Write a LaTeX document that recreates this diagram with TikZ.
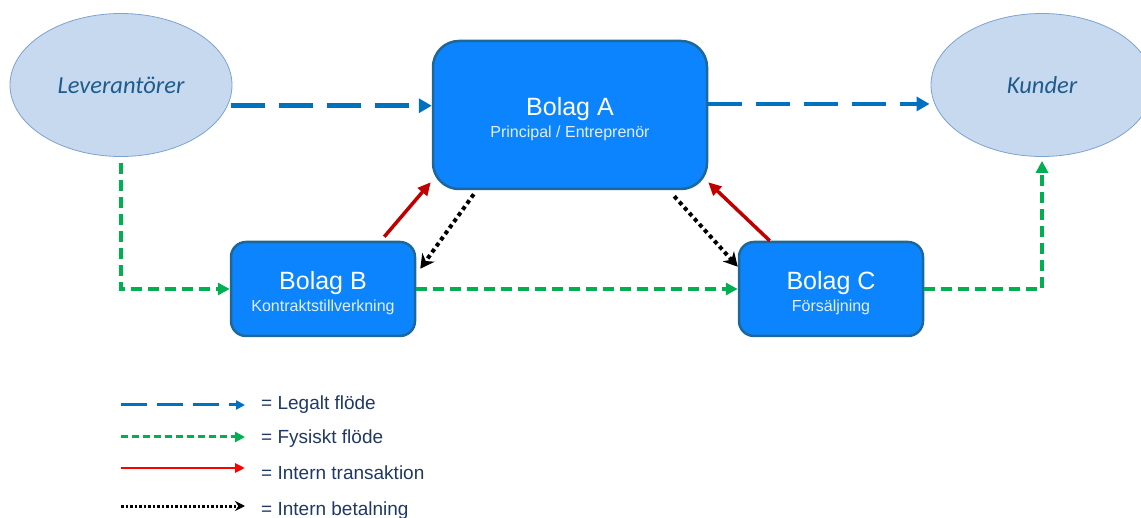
\documentclass[tikz,border=0pt]{standalone}
\usepackage{fontspec}
\setmainfont{Liberation Sans}
\newfontfamily\calibrifont{Carlito}
\usetikzlibrary{shapes.geometric,arrows.meta}

\definecolor{companyBlue}{HTML}{0B84FE}
\definecolor{companyEdge}{HTML}{1D6898}
\definecolor{subText}{HTML}{E4EFFC}
\definecolor{partyFill}{HTML}{C6D9EE}
\definecolor{partyEdge}{HTML}{7EA2D3}
\definecolor{partyText}{HTML}{1F5C8C}
\definecolor{legalBlue}{HTML}{0070C0}
\definecolor{physGreen}{HTML}{00B050}
\definecolor{transRed}{HTML}{C00000}
\definecolor{keyRed}{HTML}{FF0000}
\definecolor{keyText}{HTML}{1F3864}

\newcommand{\companyText}[2]{\rule{0pt}{27pt}#1\\[0pt]{\fontsize{16}{18}\selectfont\color{subText}#2}}

\begin{document}
\begin{tikzpicture}
[x=1pt,y=-1pt,
  partyDecorate/.style={shape=ellipse,draw=partyEdge,fill=partyFill,line width=0.8pt,
    minimum width=222pt,minimum height=143pt,inner sep=0pt,text=partyText,
    font=\calibrifont\itshape\fontsize{24.5}{28}\selectfont},
  companyDecorate/.style={shape=rectangle,draw=companyEdge,fill=companyBlue,line width=2.5pt,
    rounded corners=15pt,minimum width=184pt,minimum height=94pt,inner sep=0pt,
    text=white,align=center,font=\fontsize{25}{22}\selectfont},
  legalDecorate/.style={draw=legalBlue,line width=4.5pt,dash pattern=on 34pt off 14pt,
    -{Triangle[length=13pt,width=14pt]}},
  physDecorate/.style={draw=physGreen,line width=4pt,dash pattern=on 11pt off 6pt,
    -{Triangle[length=12pt,width=12pt]}},
  transDecorate/.style={draw=transRed,line width=3.5pt,-{Triangle[length=13pt,width=12pt]}},
  payDecorate/.style={draw=black,line width=4pt,dash pattern=on 4pt off 3.5pt,
    -{Stealth[length=14pt,width=15pt]}},
  %% legend lines
  legalKey/.style={draw=legalBlue,line width=3pt,dash pattern=on 26pt off 10pt,
    -{Triangle[length=9pt,width=9pt]}},
  physKey/.style={draw=physGreen,line width=3pt,dash pattern=on 7pt off 4pt,
    -{Triangle[length=10pt,width=10pt]}},
  transKey/.style={draw=keyRed,line width=2.5pt,-{Triangle[length=10pt,width=9pt]}},
  payKey/.style={draw=black,line width=3pt,dash pattern=on 2.5pt off 2pt,
    -{Stealth[length=10pt,width=10pt]}},
  keyDecorate/.style={text=keyText,inner sep=0pt,font=\fontsize{19}{22}\selectfont}]
\useasboundingbox (0,0) rectangle (1141,518);

%% outside parties
\node (Lev) at (121,85) [partyDecorate] {Leverantörer};
\node (Kund) at (1042,85) [partyDecorate] {Kunder};

%% companies
\node (A) at (570,115) [companyDecorate,minimum width=274pt,minimum height=148pt,rounded corners=26pt]
  {\companyText{Bolag A}{Principal / Entreprenör}};
\foreach \nodename/\x/\sub in {B/323/Kontraktstillverkning, C/831/Försäljning}
{
  \node (\nodename) at (\x,289) [companyDecorate] {\companyText{Bolag \nodename}{\sub}};
}

%% legal flow
\draw[legalDecorate,shorten <=3pt] (Lev.-11) -- (Lev.-11 -| A.west);
\draw[legalDecorate,shorten >=5pt] (Kund.190.6 -| A.east) -- (Kund.190.6);

%% physical flow
\draw[physDecorate] ([yshift=-6pt]Lev.south) |- (B.west);
\draw[physDecorate] (B.east) -- (C.west);
\draw[physDecorate] (C.east) -| ([yshift=-4pt]Kund.south);

%% internal transactions
\draw[transDecorate] ([xshift=-32pt,yshift=4pt]B.north east) -- ([xshift=-1pt,yshift=8pt]A.south west);
\draw[transDecorate] ([xshift=32pt]C.north west) -- ([yshift=8pt]A.south east);

%% internal payments
\draw[payDecorate] ([xshift=42pt,yshift=-4pt]A.south west) -- ([xshift=4pt,yshift=-28pt]B.north east);
\draw[payDecorate] ([xshift=-34pt,yshift=-6pt]A.south east) -- ([yshift=-26pt]C.north west);

%% legend
\foreach \i/\y/\base/\flow/\keytext in {1/405/410/legalKey/Legalt flöde,
  2/437/444/physKey/Fysiskt flöde, 3/468/479/transKey/Intern transaktion,
  4/506/515/payKey/Intern betalning}
{
  \coordinate (keyStart\i) at (121,\y);
  \coordinate (keyEnd\i) at (245,\y);
  \draw[\flow] (keyStart\i) -- (keyEnd\i);
  \node (keyLabel\i) at (261,\base) [keyDecorate,anchor=base west] {= \keytext};
}
\end{tikzpicture}
\end{document}
